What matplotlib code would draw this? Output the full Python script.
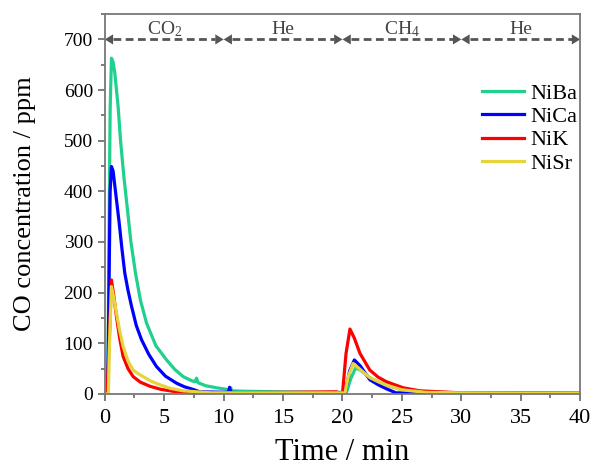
import numpy as np
import matplotlib.pyplot as plt

plt.rcParams['font.family'] = ['Liberation Serif', 'DejaVu Serif']
plt.rcParams['mathtext.fontset'] = 'custom'
plt.rcParams['mathtext.rm'] = 'Liberation Serif'
plt.rcParams['mathtext.it'] = 'Liberation Serif:italic'

# data (time in min, CO in ppm)
t_ba = [0, 0.25, 0.35, 0.45, 0.56, 0.7, 0.84, 1.12, 1.32, 1.6, 1.88, 2.2, 2.58, 3.0, 3.51, 4.3, 5.2, 5.9, 6.6, 7.3, 7.6, 7.72, 7.85, 8.5, 9.4, 10.5, 10.6, 10.7, 12, 15, 18, 20.0, 20.3, 20.7, 21.1, 21.5, 22.3, 23.0, 23.7, 25, 27, 30, 35, 40]
y_ba = [0, 0, 300, 560, 663, 655, 634, 568, 502, 430, 370, 300, 239, 185, 140, 95, 67, 48, 34, 26, 24, 31, 22, 16, 12, 8, 12, 6, 5, 4, 3, 3, 0, 30, 51, 47, 32, 24, 17, 8, 3, 2, 2, 1]

t_ca = [0, 0.25, 0.35, 0.45, 0.56, 0.7, 0.9, 1.21, 1.45, 1.68, 1.95, 2.25, 2.65, 3.09, 3.7, 4.35, 5.1, 6.04, 6.7, 7.4, 8, 10.4, 10.5, 10.6, 12, 15, 20, 20.2, 20.6, 21.0, 21.5, 22.3, 23.0, 23.7, 24.5, 30, 40]
y_ca = [0, 0, 200, 400, 449, 440, 400, 338, 285, 239, 205, 173, 135, 107, 78, 54, 35, 21, 14, 9, 4, 3, 13, 3, 2, 2, 2, 0, 45, 67, 55, 28, 18, 10, 2, 1, 1]

t_k = [0, 0.2, 0.4, 0.56, 0.75, 0.98, 1.25, 1.54, 1.95, 2.39, 3.0, 3.8, 4.7, 5.75, 8, 15, 19.5, 20.0, 20.3, 20.63, 21.0, 21.47, 22.3, 23.0, 23.7, 25.1, 26.5, 30, 40]
y_k = [0, 0, 120, 225, 195, 153, 110, 74, 50, 34, 23, 15, 9, 5, 2, 3, 4, 0, 80, 128, 110, 80, 47, 33, 24, 12, 6, 2, 1]

t_sr = [0, 0.3, 0.4, 0.56, 0.75, 0.98, 1.25, 1.54, 1.95, 2.39, 2.8, 3.23, 3.9, 4.63, 5.5, 6.6, 9, 15, 20, 20.2, 20.5, 20.9, 21.5, 22.3, 23.0, 23.7, 25, 27, 30, 40]
y_sr = [0, 0, 100, 212, 190, 160, 125, 94, 65, 47, 40, 34, 25, 18, 11, 6, 2, 2, 2, 0, 35, 60, 48, 32, 24, 17, 8, 3, 2, 1]

series = [('NiBa', t_ba, y_ba, '#1fd08e'),
          ('NiCa', t_ca, y_ca, '#0000ff'),
          ('NiK', t_k, y_k, '#ff0000'),
          ('NiSr', t_sr, y_sr, '#e6d43c')]

gas_edges = [0, 10, 20, 30, 40]
gas_names = ['CO$_2$', 'He', 'CH$_4$', 'He']

fig = plt.figure(figsize=(5.92, 4.70), dpi=100)
ax = fig.add_axes([0.177, 0.162, 0.803, 0.808])

for name, t, y, c in series:
    ax.plot(t, y, color=c, lw=2.3, label=name)

grey = '#555555'
y_arrow = 700
head_l = 0.7   # min
head_h = 10    # ppm (half height)
for i in range(len(gas_names)):
    x0, x1 = gas_edges[i], gas_edges[i + 1]
    ax.plot([x0 + head_l, x1 - head_l], [y_arrow, y_arrow], color=grey, lw=2.0,
            dashes=(2.8, 1.6), clip_on=False, solid_capstyle='butt')
    ax.fill([x0, x0 + head_l, x0 + head_l], [y_arrow, y_arrow + head_h, y_arrow - head_h],
            color=grey, clip_on=False, lw=0)
    ax.fill([x1, x1 - head_l, x1 - head_l], [y_arrow, y_arrow + head_h, y_arrow - head_h],
            color=grey, clip_on=False, lw=0)
    ax.text((x0 + x1) / 2, 710, gas_names[i],
            ha='center', va='baseline', fontsize=14, color='#444444')

ax.set_xlim(0, 40)
ax.set_ylim(0, 750)
ax.set_xticks(np.arange(0, 41, 5))
ax.set_xticks(np.arange(0, 41, 2.5), minor=True)
ax.set_yticks(np.arange(0, 701, 100))
ax.set_yticks(np.arange(0, 751, 50), minor=True)
ax.tick_params(which='both', direction='out', color='#666666', width=1.2)
ax.tick_params(axis='x', labelsize=16, pad=6)
ax.tick_params(axis='y', labelsize=14)
ax.tick_params(which='major', length=5)
ax.tick_params(which='minor', length=3)
for s in ax.spines.values():
    s.set_color('#777777')
    s.set_linewidth(1.3)

ax.set_xlabel('Time / min', fontsize=22, labelpad=7)
ax.set_ylabel('CO concentration / ppm', fontsize=19, labelpad=20)

ax.legend(loc='upper right', bbox_to_anchor=(1.037, 0.87), frameon=False,
          fontsize=16, handlelength=1.9, handletextpad=0.3, labelspacing=0.12)

fig.savefig('out.png', dpi=100)
